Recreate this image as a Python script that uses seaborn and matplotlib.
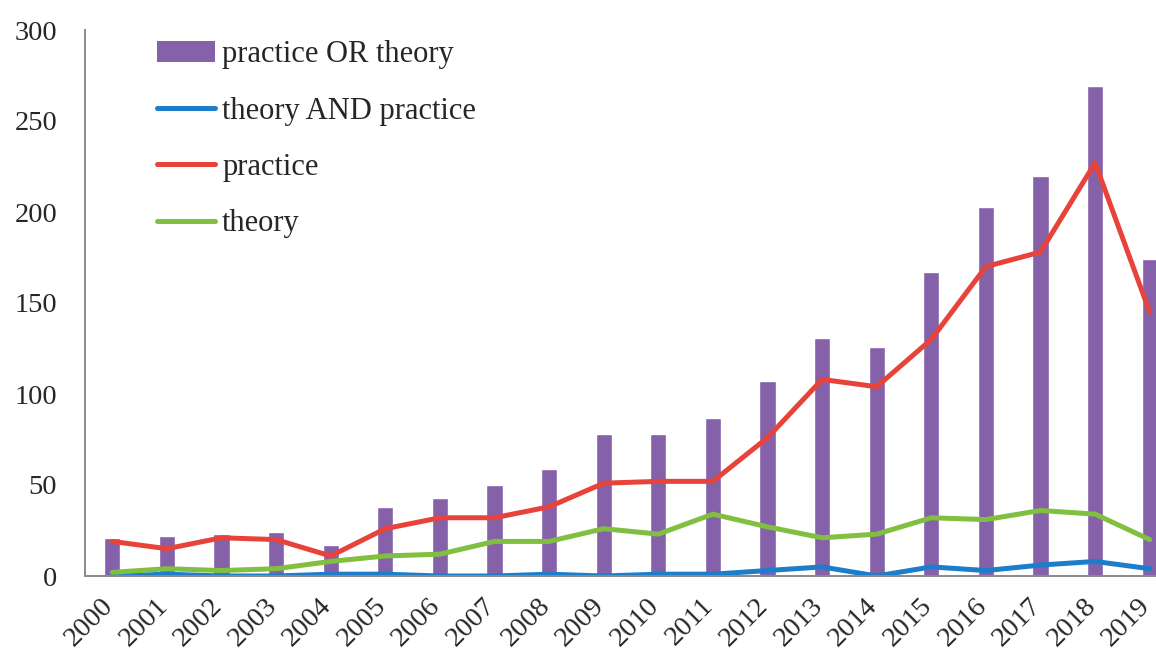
import matplotlib
matplotlib.use("Agg")
import matplotlib.pyplot as plt
import matplotlib.transforms as mtransforms
from matplotlib.patches import Patch
from matplotlib.lines import Line2D
import numpy as np
import pandas as pd
import seaborn as sns

years = [str(y) for y in range(2000, 2020)]
practice_or_theory = [21, 22, 23, 24, 17, 38, 43, 50, 59, 78,
                      78, 87, 107, 131, 126, 167, 203, 220, 269, 174]
theory_and_practice = [0, 1, 0, 0, 1, 1, 0, 0, 1, 0,
                       1, 1, 3, 5, 0, 5, 3, 6, 8, 4]
practice = [19, 15, 21, 20, 11, 26, 32, 32, 38, 51,
            52, 52, 76, 108, 104, 130, 170, 178, 227, 145]
theory = [2, 4, 3, 4, 8, 11, 12, 19, 19, 26,
          23, 34, 27, 21, 23, 32, 31, 36, 34, 20]

c_bar = "#8561AA"
c_blue = "#1C7DCB"
c_red = "#E8433B"
c_green = "#80BF3F"

sns.set_style("white")
plt.rcParams["font.family"] = ["Liberation Serif", "DejaVu Serif"]

df_bar = pd.DataFrame({"year": years, "value": practice_or_theory})
pos = np.arange(len(years))
df_lines = pd.concat([
    pd.DataFrame({"pos": pos, "value": theory_and_practice, "series": "theory AND practice"}),
    pd.DataFrame({"pos": pos, "value": practice, "series": "practice"}),
    pd.DataFrame({"pos": pos, "value": theory, "series": "theory"}),
])
line_colors = {"theory AND practice": c_blue, "practice": c_red, "theory": c_green}

fig = plt.figure(figsize=(11.56, 6.6), dpi=100)
# right edge of the plot runs past the figure, as in the cropped original
ax = fig.add_axes([85 / 1156, 84 / 660, 1092 / 1156, 546 / 660])

sns.barplot(data=df_bar, x="year", y="value", color=c_bar, width=0.3,
            saturation=1, ax=ax)
sns.lineplot(data=df_lines, x="pos", y="value", hue="series",
             palette=line_colors, linewidth=3.6, legend=False, ax=ax)

ax.set_xlim(-0.5, 19.5)
ax.set_ylim(0, 300)
ax.set_yticks(range(0, 301, 50))
ax.set_xlabel("")
ax.set_ylabel("")

for s in ["top", "right"]:
    ax.spines[s].set_visible(False)
for s in ["left", "bottom"]:
    ax.spines[s].set_color("#8a8a8a")
    ax.spines[s].set_linewidth(1.4)

ax.tick_params(axis="y", length=0, pad=20, labelsize=20.5)
ax.tick_params(axis="x", length=0, pad=19, labelsize=20.5)
shift = mtransforms.ScaledTranslation(-3 / 100, 0, fig.dpi_scale_trans)
for lab in ax.get_xticklabels():
    lab.set_rotation(45)
    lab.set_ha("right")
    lab.set_va("center")
    lab.set_rotation_mode("anchor")
    lab.set_transform(lab.get_transform() + shift)

handles = [
    Patch(facecolor=c_bar, edgecolor="none", label="practice OR theory"),
    Line2D([], [], color=c_blue, lw=3.6, label="theory AND practice"),
    Line2D([], [], color=c_red, lw=3.6, label="practice"),
    Line2D([], [], color=c_green, lw=3.6, label="theory"),
]
ax.legend(handles=handles, loc="upper left",
          bbox_to_anchor=(157 / 1156, 1 - 40 / 660),
          bbox_transform=fig.transFigure, frameon=False,
          borderpad=0, borderaxespad=0, handlelength=1.9,
          handletextpad=0.23, labelspacing=0.9, fontsize=22)

fig.savefig("out.png", dpi=100)
